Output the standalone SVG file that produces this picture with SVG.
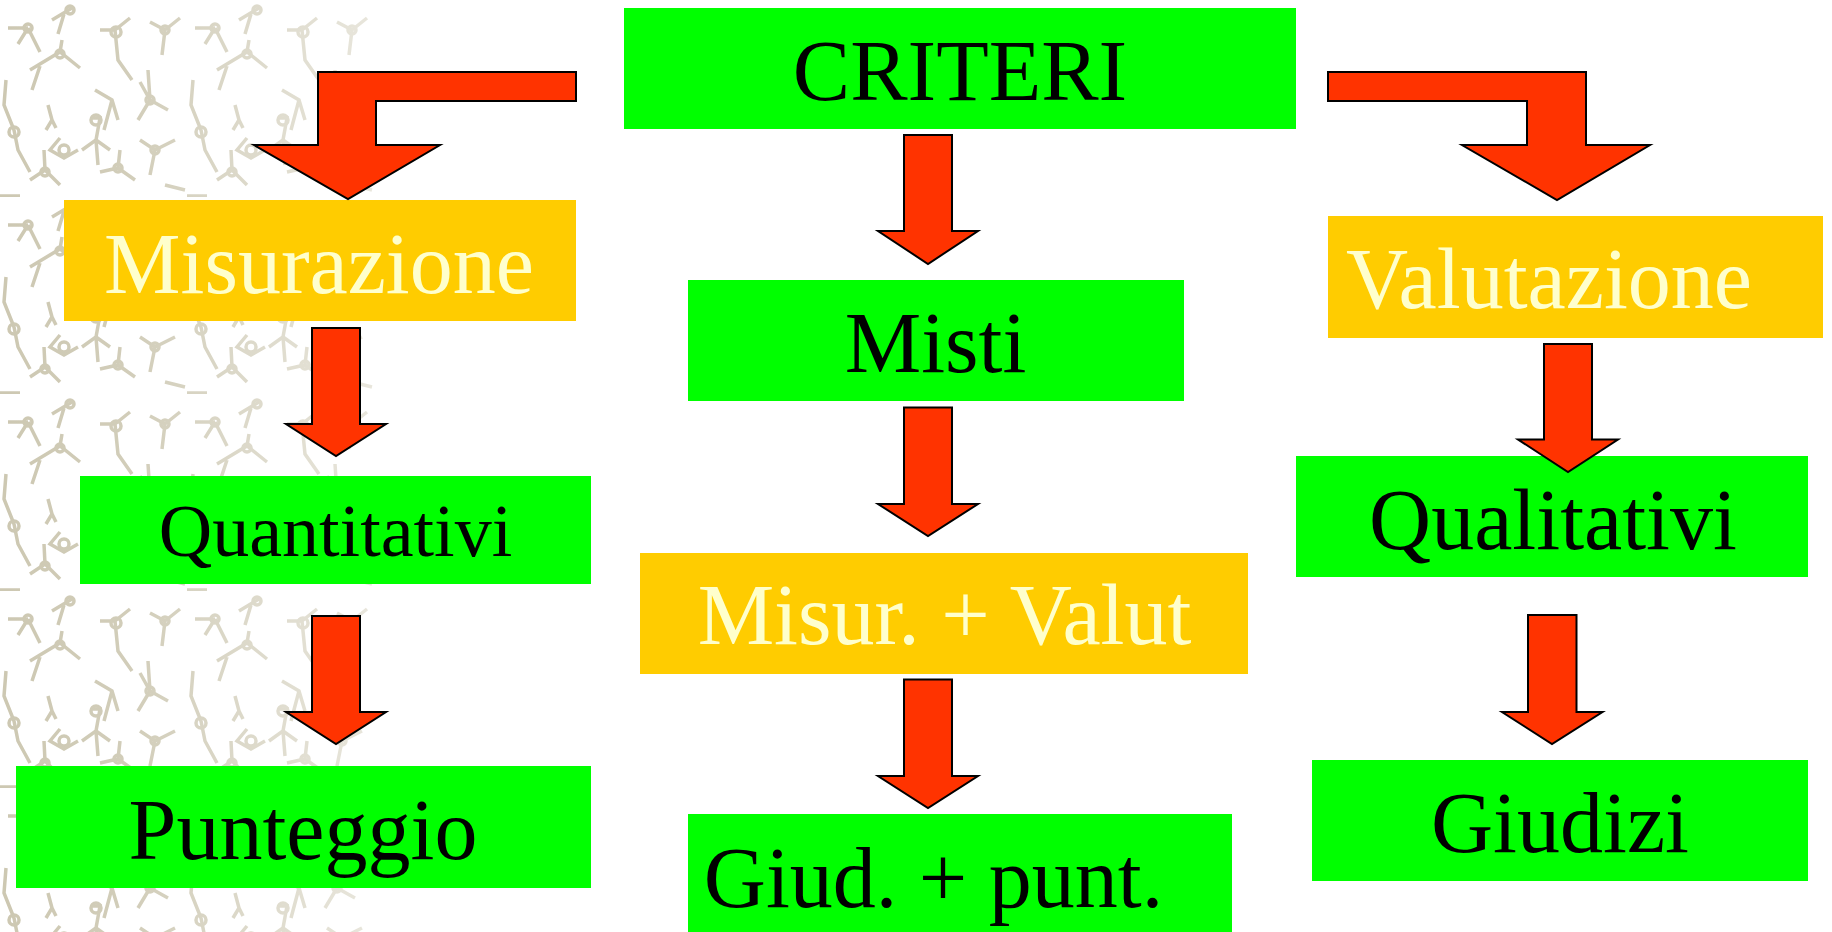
<svg xmlns="http://www.w3.org/2000/svg" width="1832" height="932" viewBox="0 0 1832 932">
<defs>
<style>
.g{fill:#00FF00}
.y{fill:#FFCC00}
.t{font-family:"Liberation Serif","Times New Roman",serif;font-size:86px;text-anchor:middle}
.dk{fill:#000000}
.lt{fill:#FFFFCC}
.ar{fill:#FF3300;stroke:#000000;stroke-width:2;stroke-linejoin:miter}
.st{fill:none;stroke:#CDC8B2;stroke-width:3.5;stroke-linecap:butt}
</style>
<pattern id="tex" x="0" y="0" width="187" height="197" patternUnits="userSpaceOnUse">
<g class="st">
<path d="M8 28 L28 28 M28 28 L40 52 M28 28 L18 44"/>
<circle cx="28" cy="28" r="4"/>
<path d="M52 20 L72 8 M64 14 L58 34"/>
<circle cx="70" cy="10" r="4"/>
<path d="M100 30 L116 30 M115 30 L118 60 L132 80 M115 30 L130 18"/>
<circle cx="116" cy="32" r="5"/>
<path d="M150 22 L165 30 L162 55 M165 30 L180 18"/>
<circle cx="165" cy="30" r="4"/>
<path d="M30 70 L60 52 L80 68 M60 52 L62 40 M40 66 L32 90"/>
<circle cx="60" cy="54" r="4"/>
<path d="M6 80 L4 105 L14 130 L18 150 L30 172"/>
<circle cx="14" cy="132" r="5"/>
<path d="M48 105 L52 120 L46 130 M52 120 L56 128"/>
<path d="M95 90 L112 100 L118 120 M112 100 L104 130"/>
<path d="M92 118 L100 118 L96 140 L82 150 M96 140 L110 150 M96 140 L98 165"/>
<circle cx="96" cy="120" r="5"/>
<path d="M60 138 L50 150 L64 158 L78 150"/>
<circle cx="64" cy="150" r="5"/>
<path d="M140 82 L150 100 M150 100 L138 120 M150 100 L168 110 M150 100 L148 70"/>
<circle cx="150" cy="100" r="4"/>
<path d="M140 140 L155 150 L175 140 M155 150 L150 175"/>
<circle cx="155" cy="150" r="4"/>
<path d="M30 180 L45 170 L60 185 M45 170 L44 150"/>
<circle cx="45" cy="172" r="4"/>
<path d="M100 172 L118 168 L135 180 M118 168 L120 150"/>
<circle cx="118" cy="168" r="4"/>
<path d="M0 196 L20 196 M165 185 L185 190"/>
</g>
</pattern>
<linearGradient id="fade" x1="0" y1="0" x2="1" y2="0">
<stop offset="0" stop-color="#FFFFFF" stop-opacity="0"/>
<stop offset="0.35" stop-color="#FFFFFF" stop-opacity="0.1"/>
<stop offset="1" stop-color="#FFFFFF" stop-opacity="0.55"/>
</linearGradient>
</defs>
<rect x="0" y="0" width="1832" height="932" fill="#FFFFFF"/>
<g id="background">
<rect x="0" y="0" width="374" height="932" fill="url(#tex)"/>
<rect x="0" y="0" width="374" height="932" fill="url(#fade)"/>
</g>
<g id="nodes">
<g id="criteri">
<rect class="g" x="624" y="8" width="672" height="121"/>
<text class="t dk" x="960" y="100">CRITERI</text>
</g>
<g id="misurazione">
<rect class="y" x="64" y="200" width="512" height="121"/>
<text class="t lt" x="319" y="292.5">Misurazione</text>
</g>
<g id="misti">
<rect class="g" x="688" y="280" width="496" height="121"/>
<text class="t dk" x="935.5" y="371.5">Misti</text>
</g>
<g id="valutazione">
<rect class="y" x="1328" y="216" width="495" height="122"/>
<text class="t lt" x="1549" y="307.5">Valutazione</text>
</g>
<g id="quantitativi">
<rect class="g" x="80" y="476" width="511" height="108"/>
<text class="t dk" x="335.5" y="556" style="font-size:74px">Quantitativi</text>
</g>
<g id="misur-valut">
<rect class="y" x="640" y="553" width="608" height="121"/>
<text class="t lt" x="944.5" y="644">Misur. + Valut</text>
</g>
<g id="qualitativi">
<rect class="g" x="1296" y="456" width="512" height="121"/>
<text class="t dk" x="1553" y="549">Qualitativi</text>
</g>
<g id="punteggio">
<rect class="g" x="16" y="766" width="575" height="122"/>
<text class="t dk" x="303" y="859">Punteggio</text>
</g>
<g id="giud-punt">
<rect class="g" x="688" y="814" width="544" height="118"/>
<text class="t dk" x="933.5" y="907">Giud. + punt.</text>
</g>
<g id="giudizi">
<rect class="g" x="1312" y="760" width="496" height="121"/>
<text class="t dk" x="1560" y="852">Giudizi</text>
</g>
</g>
<g id="connectors">
<polygon class="ar" points="318,72 576,72 576,101 376,101 376,145 440,145 348,199 254,145 318,145"/>
<polygon class="ar" points="1328,72 1586,72 1586,145 1650,145 1557,200 1462,145 1527,145 1527,101 1328,101"/>
<polygon class="ar" points="904,135 952,135 952,231 978,231 928,264 878,231 904,231"/>
<polygon class="ar" points="904,407.5 952,407.5 952,504 978,504 928,536 878,504 904,504"/>
<polygon class="ar" points="904,679.5 952,679.5 952,776 978,776 928,808 878,776 904,776"/>
<polygon class="ar" points="312,328 360,328 360,424 386,424 336,456 286,424 312,424"/>
<polygon class="ar" points="312,616 360,616 360,712 386,712 336,744 286,712 312,712"/>
<polygon class="ar" points="1544,344 1592,344 1592,439.5 1618,439.5 1568,472 1518,439.5 1544,439.5"/>
<polygon class="ar" points="1528,615 1576.5,615 1576.5,712 1602.5,712 1552,744 1502,712 1528,712"/>
</g>
</svg>
